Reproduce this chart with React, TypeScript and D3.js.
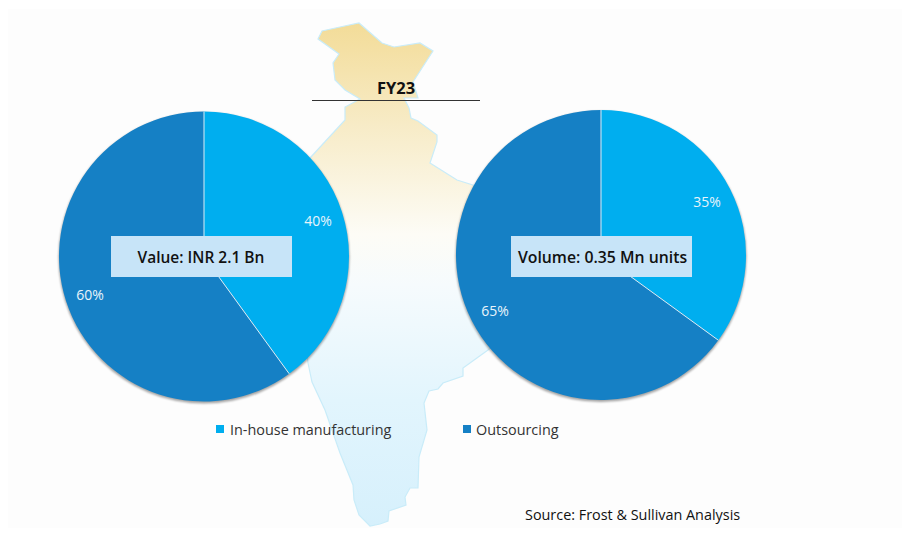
import React from "react";
import * as d3 from "d3";

const W = 910, H = 534;
const legendLabels = ["In-house manufacturing", "Outsourcing"];
const valueShares = [40, 60];
const volumeShares = [35, 65];
const colors = ["#00aeef", "#1580c5"];
const mapOutline: [number, number][] = [
  [318,39],[322,31],[340,27],[359,23],[382,43],[394,47],[420,43],[433,51],[413,82],[418,98],[404,98],[409,108],[411,118],[418,121],[437,135],[437,142],[430,163],[457,180],[476,186],[500,200],[500,340],[488,350],[463,368],[463,376],[443,383],[438,389],[429,391],[424,403],[427,430],[419,457],[418,488],[410,488],[405,497],[406,505],[389,511],[388,521],[380,524],[370,526],[359,515],[354,500],[353,485],[340,453],[325,410],[312,382],[308,363],[300,300],[290,180],[310,158],[345,120],[345,107],[360,99],[345,90],[335,80],[333,63],[339,54],
];
const mapLine = d3.line<[number, number]>().x(d => d[0]).y(d => d[1]).curve(d3.curveLinearClosed);
const FONT = "'Open Sans', sans-serif";

function Pie({ cx, cy, r, shares, box, boxX, boxY, boxW, textX, boxFont, lx, ly }: any) {
  const arcs = d3.pie<number>().sort(null)(shares);
  const arc = d3.arc<any>().innerRadius(0).outerRadius(r);
  return (
    <g>
      <circle cx={cx} cy={cy + 1.5} r={r + 0.5} fill="#000" opacity={0.35} filter="url(#soft)" />
      <g transform={`translate(${cx},${cy})`}>
        {arcs.map((a, i) => (
          <path key={i} d={arc(a) as string} fill={colors[i]} />
        ))}
        {arcs.map((a, i) => {
          const t = a.startAngle;
          return <line key={i} x1={0} y1={0} x2={r * Math.sin(t)} y2={-r * Math.cos(t)} stroke="#dcecf6" strokeWidth={1} />;
        })}
      </g>
      {shares.map((s: number, i: number) => (
        <text key={i} x={lx[i]} y={ly[i]} fill="#e8f4fb" fontSize={14} fontFamily={FONT} textAnchor="middle" dominantBaseline="central">{s}%</text>
      ))}
      <rect x={boxX} y={boxY} width={boxW} height={41} fill="#c7e4f8" />
      <text x={textX} y={boxY + 20.5} fontSize={boxFont} fontWeight={600} fill="#111" fontFamily={FONT} textAnchor="middle" dominantBaseline="central">{box}</text>
    </g>
  );
}

export default function App() {
  return (
    <svg width={W} height={H} style={{ position: "absolute", left: 0, top: 0, background: "#fff" }}>
      <defs>
        <linearGradient id="india" gradientUnits="userSpaceOnUse" x1={0} y1={23} x2={0} y2={526}>
          <stop offset="0" stopColor="#f3dc98" />
          <stop offset="0.2" stopColor="#f7ebc6" />
          <stop offset="0.42" stopColor="#fdfcf6" />
          <stop offset="0.52" stopColor="#f6fbfd" />
          <stop offset="0.75" stopColor="#e2f5fd" />
          <stop offset="1" stopColor="#d6f0fc" />
        </linearGradient>
        <filter id="soft" x="-10%" y="-10%" width="120%" height="120%"><feGaussianBlur stdDeviation={1} /></filter>
      </defs>
      <rect x={8} y={9} width={894} height={519} fill="#fdfdfd" />
      <path d={mapLine(mapOutline) as string} fill="url(#india)" stroke="#c9ecf9" strokeWidth={1.2} />
      <text x={396} y={87} fontSize={16.5} fontWeight={700} fill="#111" fontFamily={FONT} textAnchor="middle" dominantBaseline="central">FY23</text>
      <line x1={312} x2={480} y1={100.5} y2={100.5} stroke="#333" strokeWidth={1.2} />
      <Pie cx={204} cy={256.5} r={145} shares={valueShares} box="Value: INR 2.1 Bn" boxX={111} boxY={236} boxW={181} textX={201} boxFont={15.5} lx={[318, 90]} ly={[220, 294]} />
      <Pie cx={601} cy={255} r={145} shares={volumeShares} box="Volume: 0.35 Mn units" boxX={511} boxY={236} boxW={181} textX={602.5} boxFont={15.8} lx={[707, 495]} ly={[201, 310]} />
      <rect x={216} y={425} width={8} height={8} fill={colors[0]} />
      <text x={230} y={429.5} fontSize={14.4} fill="#333" fontFamily={FONT} dominantBaseline="central">{legendLabels[0]}</text>
      <rect x={463} y={425} width={8} height={8} fill={colors[1]} />
      <text x={476} y={429.5} fontSize={14.4} fill="#333" fontFamily={FONT} dominantBaseline="central">{legendLabels[1]}</text>
      <text x={525} y={514.5} fontSize={14.4} fill="#111" fontFamily={FONT} dominantBaseline="central">Source: Frost &amp; Sullivan Analysis</text>
    </svg>
  );
}
